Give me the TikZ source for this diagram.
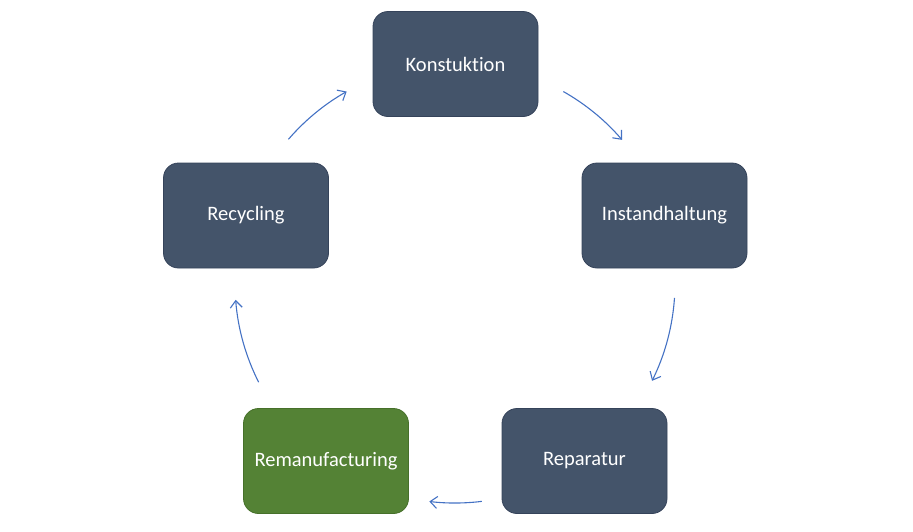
\documentclass[tikz,border=0pt]{standalone}
\usepackage{fontspec}
\setmainfont{Carlito}[Ligatures=NoCommon]
\usetikzlibrary{arrows.meta,calc}
\definecolor{boxblue}{HTML}{44546A}
\definecolor{boxblueedge}{HTML}{35435A}
\definecolor{boxgreen}{HTML}{548235}
\definecolor{boxgreenedge}{HTML}{46702A}
\definecolor{arrowblue}{HTML}{4472C4}
\tikzset{
  stepbox/.style={rectangle, rounded corners=15pt, minimum width=165pt, minimum height=105pt,
    fill=boxblue, draw=boxblueedge, line width=0.8pt, text=white, font=\fontsize{20.5}{24}\selectfont, inner sep=0pt},
  greenbox/.style={stepbox, fill=boxgreen, draw=boxgreenedge},
  cyc/.style={draw=arrowblue, line width=1.1pt, -{Straight Barb[length=7pt,width=12pt]}}
}
\begin{document}
\begin{tikzpicture}
\useasboundingbox (0pt,0pt) rectangle (913pt,-531pt);
\node[stepbox] (kon) at (455.5pt,-64pt) {Konstuktion};
\node[stepbox] (ins) at (664.5pt,-215.5pt) {Instandhaltung};
\node[stepbox] (rep) at (584.5pt,-461pt) {Reparatur};
\node[greenbox] (rem) at (326pt,-461pt) {Remanufacturing};
\node[stepbox] (rec) at (246pt,-215.5pt) {Recycling};
\coordinate (c) at (455pt,-283pt);
\coordinate (a1) at ($(c)+(60.5:220pt)$);
\coordinate (a2) at ($(c)+(-3.9:220pt)$);
\coordinate (a3) at ($(c)+(-83:220pt)$);
\coordinate (a4) at ($(c)+(-153.2:220pt)$);
\coordinate (a5) at ($(c)+(139.2:220pt)$);
\draw[cyc] (a1) arc[start angle=60.5, end angle=40.6, radius=220pt];
\draw[cyc] (a2) arc[start angle=-3.9, end angle=-26.4, radius=220pt];
\draw[cyc] (a3) arc[start angle=-83, end angle=-96.7, radius=220pt];
\draw[cyc] (a4) arc[start angle=-153.2, end angle=-175.6, radius=220pt];
\draw[cyc] (a5) arc[start angle=139.2, end angle=119.5, radius=220pt];
\end{tikzpicture}
\end{document}
